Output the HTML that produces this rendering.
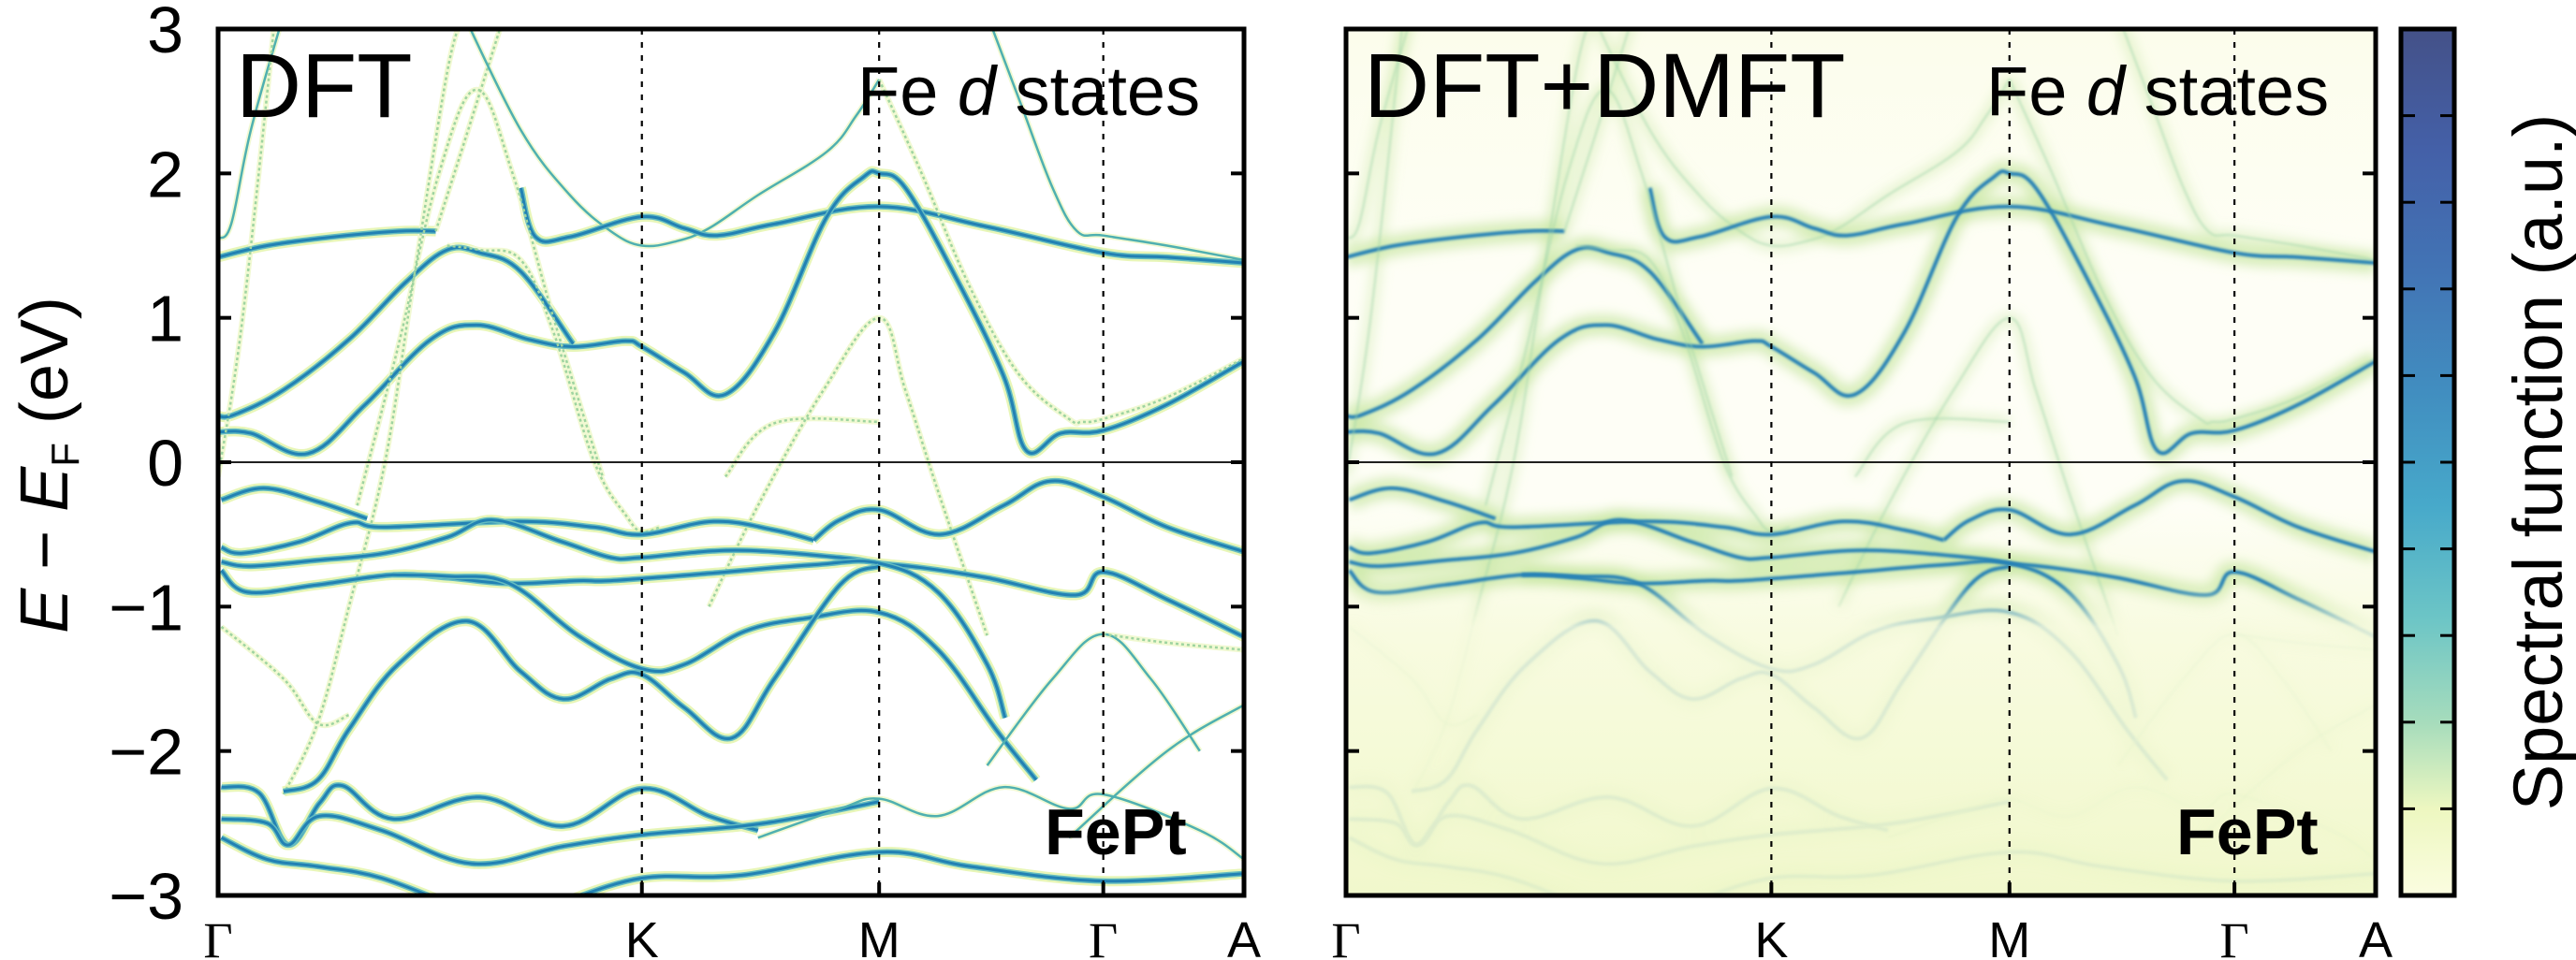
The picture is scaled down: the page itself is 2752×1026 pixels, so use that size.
<!DOCTYPE html>
<html><head><meta charset="utf-8">
<style>
html,body{margin:0;padding:0;background:#fff;}
svg{display:block;font-family:"Liberation Sans",sans-serif;}
</style></head>
<body>
<svg id="fig" width="2752" height="1026" viewBox="0 0 2752 1026" xmlns="http://www.w3.org/2000/svg">
<defs>
  <clipPath id="clipL"><rect x="233" y="31" width="1096" height="926"/></clipPath>
  <clipPath id="clipR"><rect x="1438" y="31" width="1100" height="926"/></clipPath>
  <linearGradient id="dmftBg" x1="0" y1="0" x2="0" y2="1">
    <stop offset="0" stop-color="#fcfdec"/>
    <stop offset="0.3" stop-color="#fefef6"/>
    <stop offset="0.55" stop-color="#fefef6"/>
    <stop offset="0.7" stop-color="#f8fbe0"/>
    <stop offset="1" stop-color="#f1f8cc"/>
  </linearGradient>
  <linearGradient id="fadeGrad" gradientUnits="userSpaceOnUse" x1="0" y1="31" x2="0" y2="957">
    <stop offset="0" stop-color="#fff"/>
    <stop offset="0.64" stop-color="#fff"/>
    <stop offset="0.69" stop-color="#222"/>
    <stop offset="1" stop-color="#111"/>
  </linearGradient>
  <mask id="fadeMask" maskUnits="userSpaceOnUse" x="1438" y="31" width="1100" height="926">
    <rect x="1438" y="31" width="1100" height="926" fill="url(#fadeGrad)"/>
  </mask>
  <filter id="blurBig" x="-10%" y="-10%" width="120%" height="120%"><feGaussianBlur stdDeviation="6"/></filter>
  <filter id="blurSm" x="-10%" y="-10%" width="120%" height="120%"><feGaussianBlur stdDeviation="1.4"/></filter>
  <linearGradient id="cbGrad" x1="0" y1="1" x2="0" y2="0">
    <stop offset="0" stop-color="#fbfde0"/>
    <stop offset="0.1" stop-color="#edf7c0"/>
    <stop offset="0.2" stop-color="#a6dcbc"/>
    <stop offset="0.32" stop-color="#6cc5c6"/>
    <stop offset="0.45" stop-color="#47a9ca"/>
    <stop offset="0.58" stop-color="#418ec0"/>
    <stop offset="0.72" stop-color="#4274b5"/>
    <stop offset="0.86" stop-color="#4460a8"/>
    <stop offset="1" stop-color="#445188"/>
  </linearGradient>
</defs>
<rect x="0" y="0" width="2752" height="1026" fill="#fff"/>
<rect x="1438" y="31" width="1100" height="926" fill="url(#dmftBg)"/>
<g id="bandsL" clip-path="url(#clipL)"></g>
<g id="bandsR" clip-path="url(#clipR)"></g>
<g id="axes"></g>

<text x="252" y="125" font-size="97" fill="#000">DFT</text>
<text x="1457" y="125" font-size="97" fill="#000">DFT+DMFT</text>
<text x="916" y="123" font-size="74" fill="#000">Fe <tspan font-style="italic">d</tspan> states</text>
<text x="2122" y="123" font-size="74" fill="#000">Fe <tspan font-style="italic">d</tspan> states</text>
<text x="1116" y="913" font-size="70" font-weight="bold" fill="#000">FePt</text>
<text x="2325" y="913" font-size="70" font-weight="bold" fill="#000">FePt</text>

<text transform="translate(72,497) rotate(-90)" text-anchor="middle" font-size="72" fill="#000"><tspan font-style="italic">E</tspan> − <tspan font-style="italic">E</tspan><tspan font-size="42" dy="12">F</tspan><tspan dy="-12"> (eV)</tspan></text>

<rect x="2565" y="31" width="57" height="926" fill="url(#cbGrad)"/>
<g id="cbTicks"></g>
<rect x="2565" y="31" width="57" height="926" fill="none" stroke="#000" stroke-width="5"/>
<text transform="translate(2737,494) rotate(-90)" text-anchor="middle" font-size="74" fill="#000">Spectral function (a.u.)</text>
</svg>
<script>
// ---- data: k in path-length units (Γ=0, K=259, M=404, Γ=541, A=627), energies in eV
const kTicks=[0,259,404,541,627];
const kLabels=['Γ','K','M','Γ','A'];
const eTicks=[3,2,1,0,-1,-2,-3];
const eLabels=['3','2','1','0','−1','−2','−3'];
const cbTicks=[1,2,3,4,5,6,7,8,9];

const b01k=[0,30,70,110,133], b01e=[1.42,1.5,1.56,1.6,1.6];
const b01sk=[133,150,175], b01se=[1.6,2.2,3.1];
const b02k=[150,185,215,240,259,280,300,330,372,390,404], b02e=[3.1,2.3,1.85,1.6,1.5,1.53,1.62,1.85,2.15,2.4,2.65];
const b03k=[185,194,215,259,285,305,340,404,470,541,580,627], b03e=[1.9,1.56,1.56,1.7,1.62,1.57,1.65,1.77,1.63,1.45,1.42,1.38];
const b04k=[470,490,510,525,541,580,627], b04e=[3.1,2.5,1.9,1.6,1.57,1.5,1.4];
const b05k=[0,20,55,90,130,158,190,217,249,259,285,310,340,372,395,404,420,450,480,494,515,541,580,627];
const b05e=[0.21,0.2,0.06,0.4,0.85,0.95,0.85,0.8,0.84,0.8,0.62,0.47,0.9,1.7,1.98,2.0,1.9,1.3,0.6,0.08,0.2,0.22,0.4,0.7];
const b06k=[0,10,40,80,115,140,160,185,217], b06e=[0.32,0.33,0.5,0.85,1.25,1.47,1.45,1.32,0.82];
const b07k=[140,160,185,205,230,250,259,270], b07e=[1.5,1.47,1.4,0.9,0.0,-0.38,-0.48,-0.45];
const b08k=[40,61,80,102,120,140,150], b08e=[-2.3,-1.8,-1.0,0,1.3,2.7,3.1];
const b09k=[85,110,135,158,180,205,235], b09e=[-0.3,0.8,2.0,2.58,2.0,1.0,-0.1];
const b10k=[0,8,20,40], b10e=[1.55,1.65,2.3,3.1];
const b11k=[0,15,35], b11e=[-0.1,1.0,3.1];
const b12k=[310,340,404], b12e=[-0.1,0.27,0.28];
const b13k=[300,330,370,404,420,440,470], b13e=[-1.0,-0.3,0.5,1.0,0.5,-0.2,-1.2];
const b14k=[404,430,460,490,520,528,541,580,627], b14e=[2.65,2.0,1.2,0.6,0.3,0.28,0.3,0.45,0.72];
const c01k=[2,28,60,91], c01e=[-0.26,-0.18,-0.27,-0.39];
const c02k=[2,15,50,81,102,183,230,259,303,340,364], c02e=[-0.59,-0.63,-0.55,-0.42,-0.45,-0.41,-0.45,-0.5,-0.41,-0.47,-0.54];
const c02bk=[364,380,404,441,480,509,541,580,627], c02be=[-0.54,-0.4,-0.33,-0.5,-0.3,-0.13,-0.24,-0.45,-0.62];
const c03k=[2,20,60,102,140,168,210,240,259,316,380,404,430,470,524,541,580,627];
const c03e=[-0.69,-0.72,-0.68,-0.63,-0.52,-0.4,-0.55,-0.66,-0.66,-0.61,-0.66,-0.7,-0.73,-0.8,-0.92,-0.76,-0.95,-1.21];
const c04k=[2,18,60,107,140,178,220,240,300,364,404,440,470,481], c04e=[-0.75,-0.9,-0.85,-0.78,-0.8,-0.84,-0.82,-0.82,-0.77,-0.71,-0.7,-0.9,-1.4,-1.77];
const c05k=[107,140,178,220,259,285,322,360,404,440,476,500], c05e=[-0.78,-0.79,-0.84,-1.2,-1.43,-1.4,-1.17,-1.08,-1.04,-1.3,-1.86,-2.2];
const c06k=[40,61,80,110,152,185,211,240,259,285,314,340,380,404], c06e=[-2.28,-2.2,-1.85,-1.4,-1.1,-1.45,-1.64,-1.5,-1.47,-1.7,-1.91,-1.5,-0.85,-0.72];
const c07k=[2,40,61,80], c07e=[-1.14,-1.5,-1.81,-1.75];
const c08k=[2,25,43,62,76,107,160,211,259,300,330], c08e=[-2.25,-2.29,-2.65,-2.36,-2.24,-2.47,-2.32,-2.52,-2.26,-2.45,-2.55];
const c09k=[2,30,43,62,100,155,211,259,320,360,404], c09e=[-2.47,-2.5,-2.65,-2.45,-2.55,-2.78,-2.66,-2.58,-2.52,-2.45,-2.35];
const c10k=[2,30,61,100,150], c10e=[-2.6,-2.75,-2.8,-2.88,-3.1];
const c11k=[210,259,320,404,460,541,627], c11e=[-3.05,-2.88,-2.86,-2.7,-2.8,-2.9,-2.85];
const c12k=[470,510,541,570,600], c12e=[-2.1,-1.5,-1.19,-1.5,-2.0];
const c13k=[541,580,627], c13e=[-1.19,-1.25,-1.3];
const c14k=[520,580,627], c14e=[-2.6,-2.0,-1.68];
const c15k=[330,380,404,440,480,520,541,600,627], c15e=[-2.6,-2.4,-2.33,-2.45,-2.25,-2.4,-2.3,-2.55,-2.75];

const bandK=[b01k,b01sk,b02k,b03k,b04k,b05k,b06k,b07k,b08k,b09k,b10k,b11k,b12k,b13k,b14k,c01k,c02k,c02bk,c03k,c04k,c05k,c06k,c07k,c08k,c09k,c10k,c11k,c12k,c13k,c14k,c15k];
const bandE=[b01e,b01se,b02e,b03e,b04e,b05e,b06e,b07e,b08e,b09e,b10e,b11e,b12e,b13e,b14e,c01e,c02e,c02be,c03e,c04e,c05e,c06e,c07e,c08e,c09e,c10e,c11e,c12e,c13e,c14e,c15e];
const bandWeight=[1,0.3,0.45,1,0.45,1,1,0.35,0.35,0.25,0.45,0.25,0.35,0.35,0.35,0.8,1,1,1,0.9,1,0.9,0.35,0.7,1,0.7,0.8,0.45,0.3,0.45,0.6];

// ---- axis functions
const NS='http://www.w3.org/2000/svg';
const Y0=494, EPX=154.33;
function yE(e){return Y0-e*EPX;}
function xL(k){return 233+k/627*1096;}
function xR(k){return 1438+k/627*1100;}
function pathFor(ks,es,xf){
  const p=ks.map((k,i)=>[xf(k),yE(es[i])]);
  let d='M'+p[0][0].toFixed(1)+','+p[0][1].toFixed(1);
  for(let i=0;i<p.length-1;i++){
    const p0=p[i-1]||p[i],p1=p[i],p2=p[i+1],p3=p[i+2]||p[i+1];
    const t=0.18;
    const c1=[p1[0]+(p2[0]-p0[0])*t,p1[1]+(p2[1]-p0[1])*t];
    const c2=[p2[0]-(p3[0]-p1[0])*t,p2[1]-(p3[1]-p1[1])*t];
    d+=' C'+c1[0].toFixed(1)+','+c1[1].toFixed(1)+' '+c2[0].toFixed(1)+','+c2[1].toFixed(1)+' '+p2[0].toFixed(1)+','+p2[1].toFixed(1);
  }
  return d;
}
function mk(tag,attrs,parent){const el=document.createElementNS(NS,tag);for(const a in attrs)el.setAttribute(a,attrs[a]);parent.appendChild(el);return el;}

// ---- DFT panel
const gL=document.getElementById('bandsL');
const haloL=mk('g',{},gL), coreL=mk('g',{},gL);
for(let i=0;i<bandK.length;i++){
  const d=pathFor(bandK[i],bandE[i],xL), w=bandWeight[i];
  const h=mk('path',{d:d,fill:'none',stroke:w>0.6?'#e8f6b8':'#f1f9d2','stroke-width':w>0.6?11:6},haloL);
  
  
  if(w>0.6){
    const m=mk('path',{d:d,fill:'none',stroke:'#64bcc0','stroke-width':6},coreL);
    
    
  }
  const c=mk('path',{d:d,fill:'none',stroke:w>0.6?'#2281b3':(w>0.4?'#4fb0b0':'#9ed4a0'),'stroke-width':w>0.6?3:2.5,'stroke-dasharray':w<0.4?'3 3':'none'},coreL);
  
  
}

// ---- DMFT panel
const gR=document.getElementById('bandsR');
const haloWrap=mk('g',{mask:'url(#fadeMask)'},gR);
const haloR=mk('g',{filter:'url(#blurBig)'},haloWrap);
const coreR=mk('g',{mask:'url(#fadeMask)'},gR);
for(let i=0;i<bandK.length;i++){
  const d=pathFor(bandK[i],bandE[i],xR), w=bandWeight[i];
  const h=mk('path',{d:d,fill:'none',stroke:'#c6e6a0','stroke-width':w>0.6?22:12,opacity:w>0.6?0.7:0.4},haloR);
  
  
  const c=mk('path',{d:d,fill:'none',stroke:w>0.6?'#2581b6':'#9fd5aa','stroke-width':w>0.6?4:2,opacity:w>0.6?1:0.55,filter:'url(#blurSm)'},coreR);
  
  
}

// ---- axes
const ax=document.getElementById('axes');
const panels=[[233,1329,xL,'dft'],[1438,2538,xR,'dmft']];
panels.forEach(([x0,x1,xf,nm])=>{
  const z=mk('line',{x1:x0,x2:x1,y1:yE(0),y2:yE(0),stroke:'#000','stroke-width':1.8},ax);
  
  
  for(let i=1;i<kTicks.length-1;i++){
    const l=mk('line',{x1:xf(kTicks[i]),x2:xf(kTicks[i]),y1:31,y2:957,stroke:'#000','stroke-width':2.2,'stroke-dasharray':'6 8'},ax);
    
    
    const t=mk('line',{x1:xf(kTicks[i]),x2:xf(kTicks[i]),y1:957,y2:943,stroke:'#000','stroke-width':4},ax);
    
    
  }
  eTicks.forEach(e=>{
    const t1=mk('line',{x1:x0,x2:x0+14,y1:yE(e),y2:yE(e),stroke:'#000','stroke-width':4},ax);
    
    
    const t2=mk('line',{x1:x1,x2:x1-14,y1:yE(e),y2:yE(e),stroke:'#000','stroke-width':4},ax);
    
    
  });
  const fr=mk('rect',{x:x0,y:31,width:x1-x0,height:926,fill:'none',stroke:'#000','stroke-width':5},ax);
  
  
  kTicks.forEach((k,i)=>{
    const t=mk('text',{x:xf(k),y:1023,'font-size':54,'text-anchor':'middle','font-family':kLabels[i]==='Γ'?'"Liberation Serif",serif':'"Liberation Sans",sans-serif'},ax);
    t.textContent=kLabels[i];
    
    
  });
});
eTicks.forEach((e,i)=>{
  const t=mk('text',{x:196,y:yE(e)+25,'font-size':70,'text-anchor':'end'},ax);
  t.textContent=eLabels[i];
  
  
});
const cbt=document.getElementById('cbTicks');
cbTicks.forEach(v=>{
  const y=957-v*926/10;
  const a=mk('line',{x1:2565,x2:2580,y1:y,y2:y,stroke:'#000','stroke-width':3},cbt);
  
  
  const b=mk('line',{x1:2622,x2:2607,y1:y,y2:y,stroke:'#000','stroke-width':3},cbt);
  
  
});
</script>
</body></html>
